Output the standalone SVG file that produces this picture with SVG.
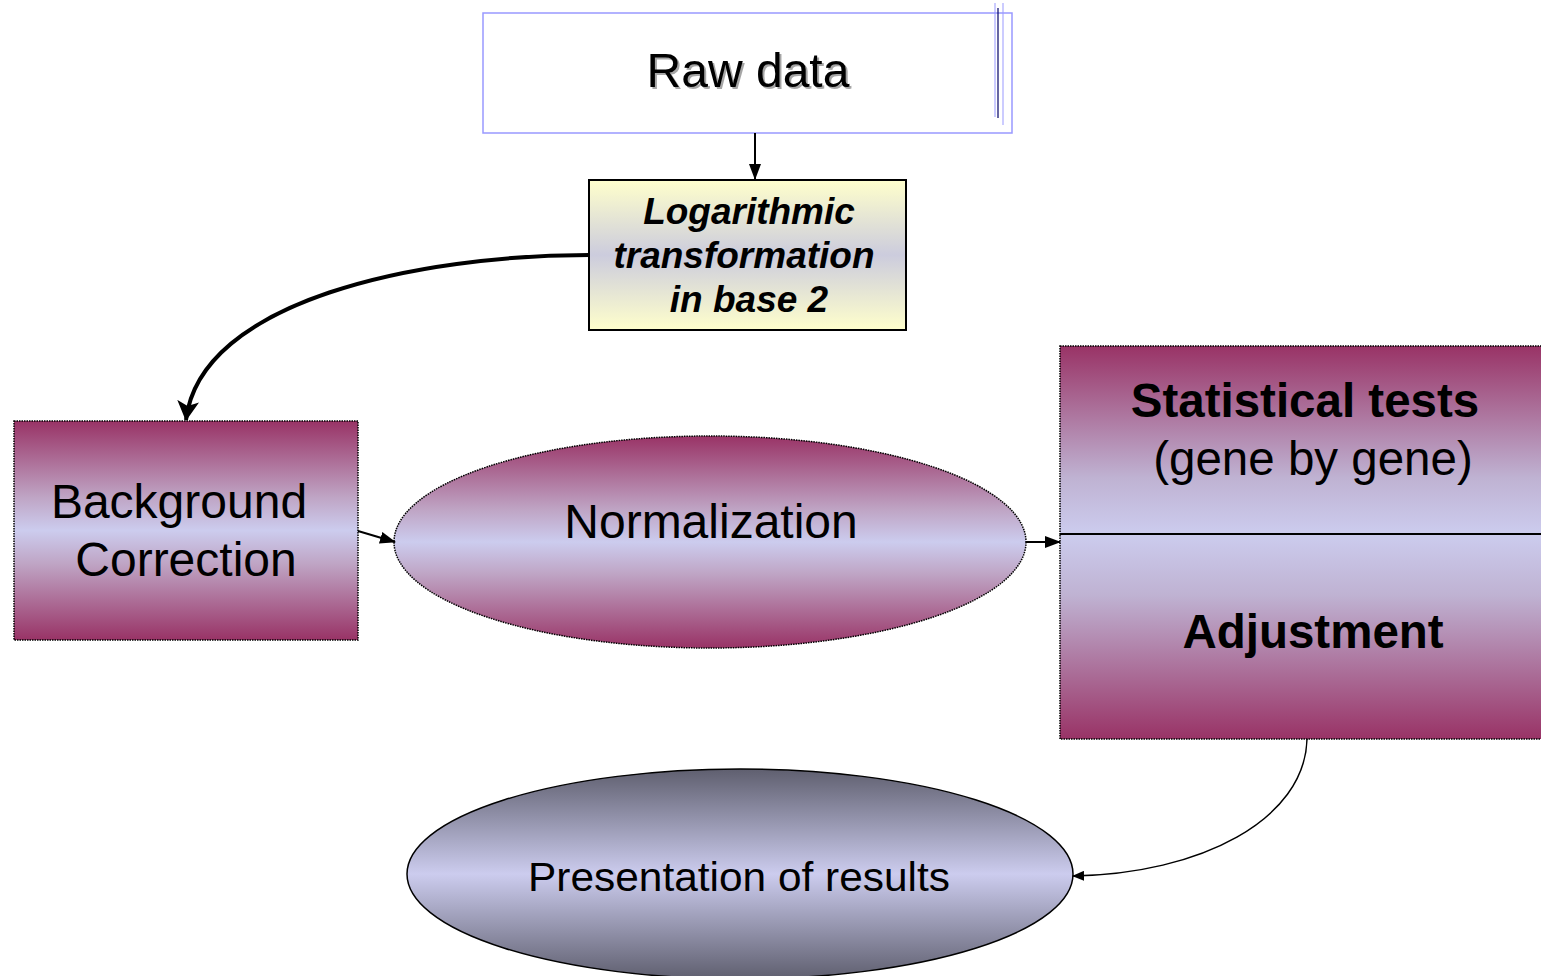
<svg xmlns="http://www.w3.org/2000/svg" width="1541" height="976" viewBox="0 0 1541 976">
<defs>
<style>
.t{font-family:"Liberation Sans",Arial,sans-serif;fill:#000;text-anchor:middle}
.conn{fill:none;stroke:#000}
</style>
<linearGradient id="purp" x1="0" y1="0" x2="0" y2="1">
<stop offset="0" stop-color="#993366"/>
<stop offset="0.35" stop-color="#bfa5c5"/>
<stop offset="0.5" stop-color="#ccccee"/>
<stop offset="0.65" stop-color="#bfa5c5"/>
<stop offset="1" stop-color="#993366"/>
</linearGradient>
<linearGradient id="purpTop" x1="0" y1="0" x2="0" y2="1">
<stop offset="0" stop-color="#993366"/>
<stop offset="0.7" stop-color="#bfb2d2"/>
<stop offset="1" stop-color="#ccccee"/>
</linearGradient>
<linearGradient id="purpBot" x1="0" y1="0" x2="0" y2="1">
<stop offset="0" stop-color="#ccccee"/>
<stop offset="0.3" stop-color="#bfb2d2"/>
<stop offset="1" stop-color="#993366"/>
</linearGradient>
<linearGradient id="yel" x1="0" y1="0" x2="0" y2="1">
<stop offset="0" stop-color="#ffffcc"/>
<stop offset="0.5" stop-color="#ccccdd"/>
<stop offset="1" stop-color="#ffffcc"/>
</linearGradient>
<linearGradient id="gray" x1="0" y1="0" x2="0" y2="1">
<stop offset="0" stop-color="#5f5f6f"/>
<stop offset="0.5" stop-color="#ccccee"/>
<stop offset="1" stop-color="#5f5f6f"/>
</linearGradient>
<marker id="arr" markerWidth="16" markerHeight="12" refX="15" refY="6" orient="auto" markerUnits="userSpaceOnUse" viewBox="0 0 16 12">
<path d="M0,0 L16,6 L0,12 z" fill="#000"/>
</marker>
<marker id="arrSm" markerWidth="12" markerHeight="10" refX="11" refY="5" orient="auto" markerUnits="userSpaceOnUse" viewBox="0 0 12 10">
<path d="M0,0 L12,5 L0,10 z" fill="#000"/>
</marker>
<marker id="arrBig" markerWidth="20" markerHeight="22" refX="19" refY="11" orient="auto" markerUnits="userSpaceOnUse" viewBox="0 0 20 22">
<path d="M0,0 L20,11 L0,22 L5,11 z" fill="#000"/>
</marker>
<filter id="sh" x="-10%" y="-10%" width="120%" height="130%">
<feDropShadow dx="2" dy="2" stdDeviation="0.6" flood-color="#000" flood-opacity="0.35"/>
</filter>
</defs>
<rect width="1541" height="976" fill="#fff"/>

<g id="raw-data">
<rect x="483" y="13" width="529" height="120" fill="#fff" stroke="#9999ff" stroke-width="1.5"/>
<line x1="995" y1="3" x2="995" y2="117" stroke="#9999ff" stroke-width="1"/>
<line x1="998" y1="8" x2="998" y2="118" stroke="#000066" stroke-width="1.2"/>
<line x1="1003" y1="3" x2="1003" y2="125" stroke="#9999ff" stroke-width="1"/>
<text class="t" x="748" y="87" font-size="48" filter="url(#sh)">Raw data</text>
</g>

<g id="log-transform">
<rect x="589" y="180" width="317" height="150" fill="url(#yel)" stroke="#000" stroke-width="2"/>
<text class="t" x="749" y="224" font-size="37" font-weight="bold" font-style="italic">Logarithmic</text>
<text class="t" x="744" y="268" font-size="37" font-weight="bold" font-style="italic">transformation</text>
<text class="t" x="749" y="312" font-size="37" font-weight="bold" font-style="italic">in base 2</text>
</g>

<g id="background-correction">
<rect x="14" y="421" width="344" height="219" fill="url(#purp)" stroke="#000" stroke-width="1.5" stroke-dasharray="1.5 1"/>
<text class="t" x="179" y="518" font-size="48">Background</text>
<text class="t" x="186" y="576" font-size="48">Correction</text>
</g>

<g id="normalization">
<ellipse cx="710" cy="542" rx="316" ry="106" fill="url(#purp)" stroke="#000" stroke-width="1.5" stroke-dasharray="1.5 1"/>
<text class="t" x="711" y="538" font-size="48">Normalization</text>
</g>

<g id="statistical-tests">
<rect x="1060" y="346" width="485" height="188" fill="url(#purpTop)" stroke="#000" stroke-width="1.5" stroke-dasharray="1.5 1"/>
<rect x="1060" y="534" width="485" height="205" fill="url(#purpBot)" stroke="#000" stroke-width="1.5" stroke-dasharray="1.5 1"/>
<line x1="1060" y1="534" x2="1541" y2="534" stroke="#000" stroke-width="2"/>
<text class="t" x="1305" y="417" font-size="47.5" font-weight="bold">Statistical tests</text>
<text class="t" x="1313" y="475" font-size="47.5">(gene by gene)</text>
<text class="t" x="1313" y="648" font-size="47.5" font-weight="bold">Adjustment</text>
</g>

<g id="presentation">
<ellipse cx="740" cy="874" rx="333" ry="105" fill="url(#gray)" stroke="#000" stroke-width="1.5"/>
<text class="t" x="739" y="891" font-size="41" textLength="422" lengthAdjust="spacingAndGlyphs">Presentation of results</text>
</g>

<g id="connectors">
<line class="conn" x1="755" y1="133" x2="755" y2="179" stroke-width="2" marker-end="url(#arr)"/>
<path class="conn" d="M589,255 C420,255 200,300 186,420" stroke-width="4" marker-end="url(#arrBig)"/>
<line class="conn" x1="358" y1="531" x2="395" y2="542" stroke-width="2" marker-end="url(#arr)"/>
<line class="conn" x1="1026" y1="542" x2="1060" y2="542" stroke-width="2" marker-end="url(#arr)"/>
<path class="conn" d="M1307,739 C1305,820 1200,874 1073,876" stroke-width="1.5" marker-end="url(#arrSm)"/>
</g>
</svg>
